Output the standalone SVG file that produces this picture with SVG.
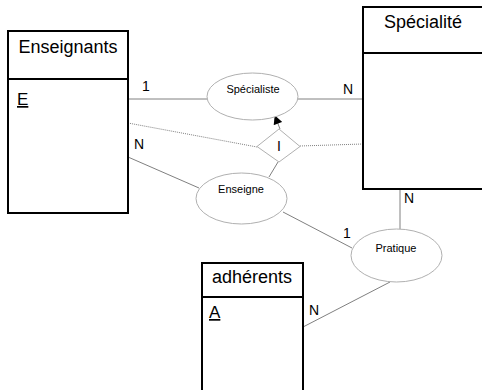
<svg xmlns="http://www.w3.org/2000/svg" width="482" height="390" viewBox="0 0 482 390">
  <style>
    .entity { fill: #fff; stroke: #000; stroke-width: 2; }
    .title { font-family: "Liberation Sans", Arial, sans-serif; font-size: 18px; fill: #000; text-anchor: middle; }
    .key { font-family: "Liberation Sans", Arial, sans-serif; font-size: 17px; fill: #000; text-decoration: underline; }
    .rel { fill: #fff; stroke: #b0b0b0; stroke-width: 1; }
    .rel-text { font-family: "Liberation Sans", Arial, sans-serif; font-size: 11px; fill: #000; text-anchor: middle; }
    .card { font-family: "Liberation Sans", Arial, sans-serif; font-size: 14px; fill: #000; }
    .link { stroke: #808080; stroke-width: 1; fill: none; }
    .dotted { stroke: #808080; stroke-width: 1; stroke-dasharray: 1 1; fill: none; }
  </style>
  <defs>
    <marker id="arrow" viewBox="0 0 10 10" refX="9" refY="5" markerWidth="10" markerHeight="9" markerUnits="userSpaceOnUse" orient="auto">
      <path d="M0,0 L10,5 L0,10 z" fill="#000"/>
    </marker>
  </defs>
  <rect width="482" height="390" fill="#fff"/>

  <g id="connectors">
    <line class="link" x1="128" y1="99" x2="207" y2="99"/>
    <line class="link" x1="298" y1="99" x2="363" y2="99"/>
    <line class="dotted" x1="128" y1="123" x2="257" y2="147"/>
    <line class="dotted" x1="300" y1="146" x2="363" y2="144"/>
    <line class="link" x1="128" y1="157" x2="199" y2="188"/>
    <line class="link" x1="278" y1="162" x2="269" y2="177"/>
    <line class="link" x1="280" y1="129" x2="275" y2="116" marker-end="url(#arrow)"/>
    <line class="link" x1="400" y1="189" x2="400" y2="229"/>
    <line class="link" x1="283" y1="212" x2="352" y2="248"/>
    <line class="link" x1="390" y1="282" x2="303" y2="327"/>
    <text class="card" x="142" y="91">1</text>
    <text class="card" x="343" y="94">N</text>
    <text class="card" x="134" y="149">N</text>
    <text class="card" x="404" y="203">N</text>
    <text class="card" x="343" y="238">1</text>
    <text class="card" x="309" y="315">N</text>
  </g>

  <g id="enseignants">
    <rect class="entity" x="8" y="31" width="120" height="182"/>
    <line class="entity" x1="8" y1="79" x2="128" y2="79"/>
    <text class="title" x="68" y="53">Enseignants</text>
    <text class="key" x="17" y="105">E</text>
  </g>

  <g id="specialite">
    <rect class="entity" x="363" y="7" width="122" height="182"/>
    <line class="entity" x1="363" y1="53" x2="485" y2="53"/>
    <text class="title" x="423" y="28">Spécialité</text>
  </g>

  <g id="adherents">
    <rect class="entity" x="202" y="263" width="101" height="140"/>
    <line class="entity" x1="202" y1="297" x2="303" y2="297"/>
    <text class="title" x="252" y="283">adhérents</text>
    <text class="key" x="209" y="318">A</text>
  </g>

  <g id="specialiste">
    <ellipse class="rel" cx="252.5" cy="96.5" rx="45.5" ry="23.5"/>
    <text class="rel-text" x="253" y="93">Spécialiste</text>
  </g>

  <g id="inclusion">
    <polygon class="rel" points="279,129 300,146.5 279,162 257,146.5"/>
    <text class="card" x="279" y="151" text-anchor="middle">I</text>
  </g>

  <g id="enseigne">
    <ellipse class="rel" cx="241.5" cy="198.5" rx="45.5" ry="25.5"/>
    <text class="rel-text" x="241" y="193">Enseigne</text>
  </g>

  <g id="pratique">
    <ellipse class="rel" cx="396.5" cy="255.5" rx="45.5" ry="26.5"/>
    <text class="rel-text" x="396" y="252">Pratique</text>
  </g>
</svg>
